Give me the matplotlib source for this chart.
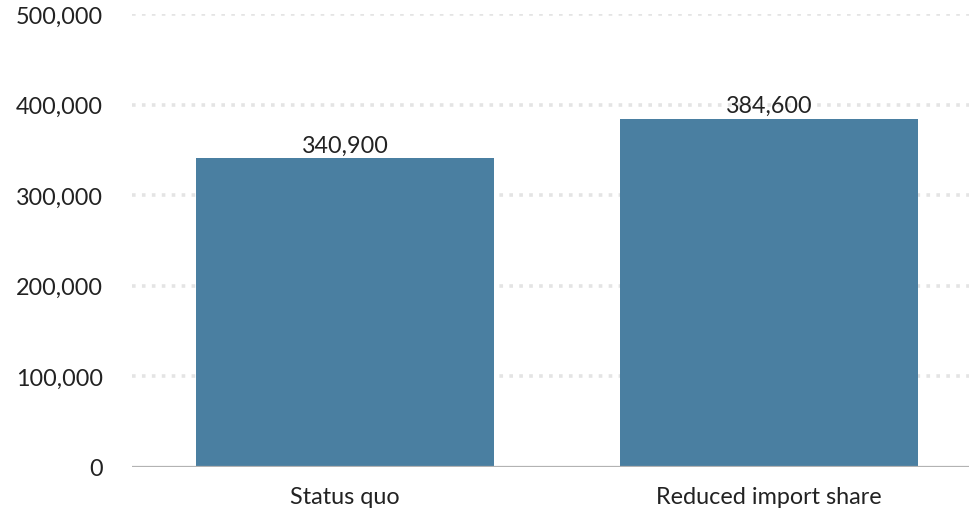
import matplotlib
matplotlib.use("Agg")
import matplotlib.pyplot as plt
from matplotlib.ticker import FuncFormatter

categories = ["Status quo", "Reduced import share"]
values = [340900, 384600]
yticks = [0, 100000, 200000, 300000, 400000, 500000]

plt.rcParams['font.family'] = ['Lato', 'DejaVu Sans']

fig = plt.figure(figsize=(9.7, 5.1), dpi=100)
ax = fig.add_axes([132/970, 42/510, 1 - 132/970, (468-15)/510])

x = list(range(len(categories)))
ax.set_axisbelow(True)
for t in yticks[1:]:
    ax.axhline(t, color='#e4e4e4', lw=2.6, linestyle=(0, (1.0, 1.75)), zorder=0)
bars = ax.bar(x, values, width=0.703, color='#4a7fa1', zorder=2)
ax.axhline(0, color='#b3b3b3', lw=1.6, zorder=3)

for xi, v in zip(x, values):
    ax.text(xi, v + 2500, f"{v:,}", ha='center', va='bottom', fontsize=16.8, color='#222222')

ax.set_xlim(-0.502, 1.474)
ax.set_ylim(0, 500000)
ax.set_yticks(yticks)
ax.yaxis.set_major_formatter(FuncFormatter(lambda v, p: f"{int(v):,}"))
ax.set_xticks(x)
ax.set_xticklabels(categories)
ax.tick_params(axis='y', length=0, pad=21, labelsize=16.8, labelcolor='#222222')
ax.tick_params(axis='x', length=0, pad=14, labelsize=16.8, labelcolor='#222222')
for s in ax.spines.values():
    s.set_visible(False)

fig.savefig("out.png", dpi=100)
